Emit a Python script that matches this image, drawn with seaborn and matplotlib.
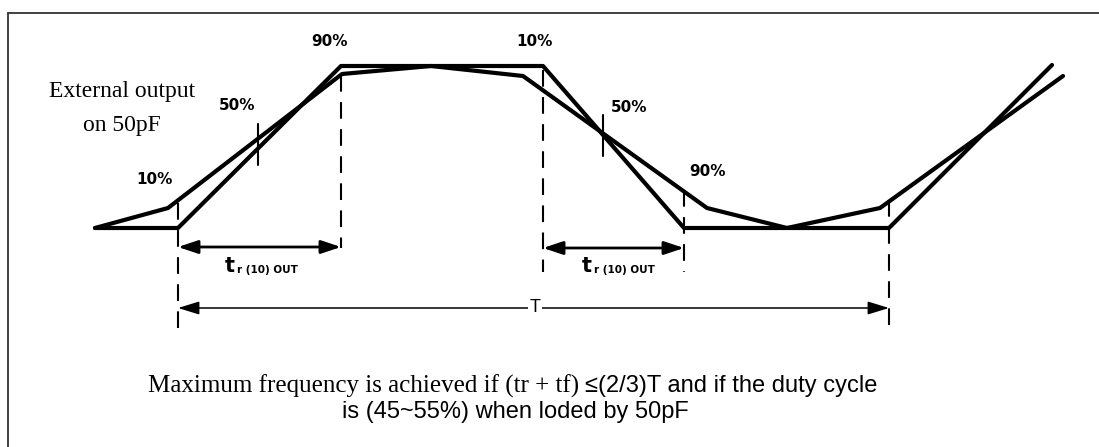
import numpy as np
import pandas as pd
import matplotlib
matplotlib.use("Agg")
import matplotlib.pyplot as plt
import seaborn as sns

# waveform vertices (pixel coords of the diagram, y grows downwards)
sharp_x = [95, 178, 341, 543, 684, 889, 1052]
sharp_y = [228, 228, 66, 66, 228, 228, 65]
soft_x = [95, 168, 342, 431, 523, 707, 787, 880, 1063]
soft_y = [228, 208, 74, 66, 76, 208, 228, 208, 76]

# dashed markers (x, y top, y bottom)
dash_x = [178, 341, 543, 684, 889]
dash_top = [203, 75, 70, 190, 200]
dash_bot = [332, 248, 272, 272, 332]

# 50% ticks
tick_x = [258, 603]
tick_top = [124, 115]
tick_bot = [165, 156]

# level labels
pct_labels = ['10%', '50%', '90%', '10%', '50%', '90%']
pct_x = [155, 237, 330, 534, 629, 707]
pct_y = [180, 106, 42, 42, 107, 172]

# timing arrows
tr_starts = [178, 543]
tr_ends = [341, 684]
tr_y = [247, 248]
tr_label_x = [225, 582]
T_start, T_end, T_y = 178, 889, 308

sns.set_style("white")
plt.rcParams['text.color'] = 'black'
fig = plt.figure(figsize=(10.99, 4.47), dpi=100)
ax = fig.add_axes([0, 0, 1, 1])
ax.set_xlim(0, 1099)
ax.set_ylim(447, 0)
ax.axis('off')

# frame (only top and left edges visible)
ax.plot([8, 1099], [13, 13], color='#333333', lw=1.3)
ax.plot([8, 8], [13, 447], color='#333333', lw=1.3)

sharp = pd.DataFrame({'x': sharp_x, 'y': sharp_y})
soft = pd.DataFrame({'x': soft_x, 'y': soft_y})
sns.lineplot(data=sharp, x='x', y='y', sort=False, estimator=None, color='black', lw=3, ax=ax)
sns.lineplot(data=soft, x='x', y='y', sort=False, estimator=None, color='black', lw=3, ax=ax)
ax.set_xlabel('')
ax.set_ylabel('')

for x, y0, y1 in zip(dash_x, dash_top, dash_bot):
    ax.plot([x, x], [y0, y1], color='black', lw=1.5, dashes=(8, 5))
for x, y0, y1 in zip(tick_x, tick_top, tick_bot):
    ax.plot([x, x], [y0, y1], color='black', lw=1.5)

for lab, x, y in zip(pct_labels, pct_x, pct_y):
    ax.text(x, y, lab, ha='center', va='center', fontsize=11, fontweight='bold',
            family='DejaVu Sans', color='black')

# tr arrows
for x0, x1, y, lx in zip(tr_starts, tr_ends, tr_y, tr_label_x):
    ax.annotate('', xy=(x1, y), xytext=(x0, y),
                arrowprops=dict(arrowstyle='<|-|>,head_length=1.2,head_width=0.4', color='black', lw=2,
                                shrinkA=0, shrinkB=0))
    ax.text(lx, 272, 't', ha='left', va='baseline', fontsize=15, fontweight='bold',
            family='DejaVu Sans', color='black')
    ax.text(lx + 12, 273, 'r (10) OUT', ha='left', va='baseline', fontsize=7.5, fontweight='bold',
            family='DejaVu Sans', color='black')

# period arrow
ax.annotate('', xy=(T_end, T_y), xytext=(T_start, T_y),
            arrowprops=dict(arrowstyle='<|-|>,head_length=1.3,head_width=0.4', color='black', lw=1.1,
                            shrinkA=0, shrinkB=0))
ax.text(535, T_y, 'T', ha='center', va='center', fontsize=13, family='Liberation Sans', color='black',
        bbox=dict(facecolor='white', edgecolor='none', pad=1))

ax.text(122, 92, 'External output', ha='center', va='center', fontsize=17, family='Liberation Serif',
        color='black')
ax.text(122, 125, 'on 50pF', ha='center', va='center', fontsize=17, family='Liberation Serif',
        color='black')

# first caption line mixes a serif part and a sans part, chain them
t1 = ax.text(148, 386, 'Maximum frequency is achieved if (tr + tf)', ha='left', va='center', fontsize=18,
             family='Liberation Serif', color='black')
fig.canvas.draw()
bb = t1.get_window_extent(renderer=fig.canvas.get_renderer())
x_end = ax.transData.inverted().transform((bb.x1, bb.y0))[0]
ax.text(x_end + 6, 386, '\u2264(2/3)T and if the duty cycle', ha='left', va='center', fontsize=17,
        family='Liberation Sans', color='black')
ax.text(515, 412, 'is (45~55%) when loded by 50pF', ha='center', va='center', fontsize=17,
        family='Liberation Sans', color='black')

fig.savefig('out.png', dpi=100)
